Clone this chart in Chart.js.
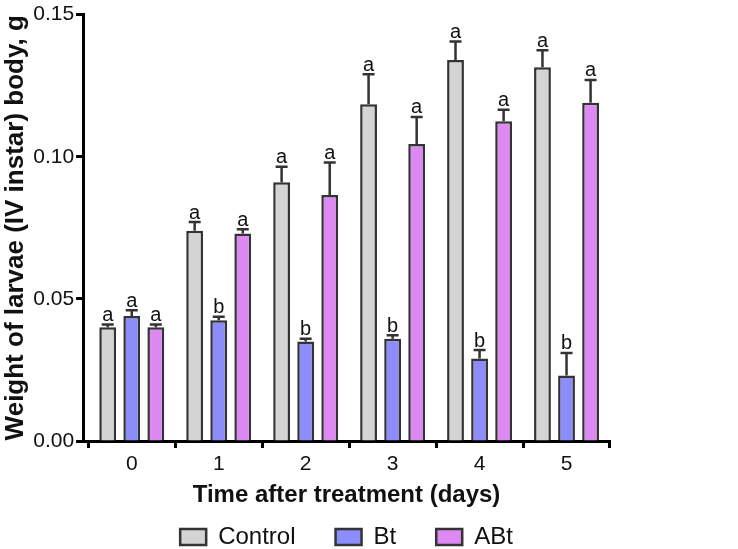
<!DOCTYPE html>
<html>
<head>
<meta charset="utf-8">
<script src="https://cdn.jsdelivr.net/npm/chart.js@4/dist/chart.umd.min.js"></script>
<style>
  html, body { margin: 0; padding: 0; background: #fff; }
  #wrap { width: 738px; height: 549px; }
</style>
</head>
<body>
<div id="wrap"><canvas id="weightChart"></canvas></div>
<script>
// Days after treatment
const days = [0, 1, 2, 3, 4, 5];

// Mean larval weight (g)
const controlMean = [0.040, 0.074, 0.091, 0.1185, 0.134, 0.1315];
const btMean      = [0.044, 0.0425, 0.035, 0.036, 0.029, 0.023];
const abtMean     = [0.040, 0.073, 0.0865, 0.1045, 0.1125, 0.119];

// Standard errors (drawn upward only)
const controlErr = [0.001, 0.003, 0.0055, 0.0105, 0.0065, 0.006];
const btErr      = [0.002, 0.0012, 0.001, 0.0012, 0.003, 0.008];
const abtErr     = [0.001, 0.0015, 0.0115, 0.0095, 0.004, 0.008];

// Significance letters
const controlLetters = ['a', 'a', 'a', 'a', 'a', 'a'];
const btLetters      = ['a', 'b', 'b', 'b', 'b', 'b'];
const abtLetters     = ['a', 'a', 'a', 'a', 'a', 'a'];

const yTicks = [0, 0.05, 0.10, 0.15];

const FONT = '"Liberation Sans", Arial, sans-serif';

function toPoints(values) {
    return days.map((d, i) => ({ x: d, y: values[i] }));
}

// Draws the upper error bars and the letters above them
const errorBarPlugin = {
    id: 'errorBars',
    afterDatasetsDraw(chart) {
        const ctx = chart.ctx;
        const yScale = chart.scales.y;
        chart.data.datasets.forEach((ds, i) => {
            const meta = chart.getDatasetMeta(i);
            meta.data.forEach((bar, j) => {
                const top = yScale.getPixelForValue(ds.data[j].y + ds.errors[j]);
                ctx.save();
                ctx.strokeStyle = '#333333';
                ctx.lineWidth = 2.5;
                ctx.beginPath();
                ctx.moveTo(bar.x, bar.y);
                ctx.lineTo(bar.x, top);
                ctx.moveTo(bar.x - 6, top);
                ctx.lineTo(bar.x + 6, top);
                ctx.stroke();
                ctx.fillStyle = '#111';
                ctx.font = '20px ' + FONT;
                ctx.textAlign = 'center';
                ctx.textBaseline = 'bottom';
                ctx.fillText(ds.letters[j], bar.x, top + 1);
                ctx.restore();
            });
        });
    }
};

const ctx = document.getElementById('weightChart').getContext('2d');

new Chart(ctx, {
    type: 'bar',
    data: {
        datasets: [{
            label: 'Control',
            data: toPoints(controlMean),
            errors: controlErr,
            letters: controlLetters,
            backgroundColor: '#d4d4d4',
            borderColor: '#333333',
            borderWidth: 2.5
        }, {
            label: 'Bt',
            data: toPoints(btMean),
            errors: btErr,
            letters: btLetters,
            backgroundColor: '#8c8cfb',
            borderColor: '#333333',
            borderWidth: 2.5
        }, {
            label: 'ABt',
            data: toPoints(abtMean),
            errors: abtErr,
            letters: abtLetters,
            backgroundColor: '#dd88f3',
            borderColor: '#333333',
            borderWidth: 2.5
        }]
    },
    options: {
        responsive: true,
        maintainAspectRatio: false,
        animation: false,
        devicePixelRatio: 1,
        barPercentage: 0.7,
        categoryPercentage: 0.83,
        layout: {
            padding: { left: 0, right: 128, top: 1, bottom: -10 }
        },
        plugins: {
            legend: {
                position: 'bottom',
                fullSize: false,
                labels: {
                    boxWidth: 26,
                    boxHeight: 16,
                    padding: 40,
                    color: '#111',
                    font: { family: FONT, size: 24 }
                }
            },
            tooltip: { enabled: false }
        },
        scales: {
            x: {
                type: 'linear',
                min: -0.56,
                max: 5.5,
                offset: false,
                grid: {
                    drawOnChartArea: false,
                    drawTicks: true,
                    tickLength: 7,
                    tickWidth: 3,
                    color: '#000'
                },
                border: { color: '#000', width: 3 },
                ticks: {
                    stepSize: 1,
                    includeBounds: false,
                    color: '#111',
                    padding: 4,
                    font: { family: FONT, size: 21 }
                },
                title: {
                    display: true,
                    text: 'Time after treatment (days)',
                    color: '#111',
                    font: { family: FONT, size: 24, weight: 'bold' },
                    padding: { top: 0, bottom: -25 }
                }
            },
            y: {
                min: 0,
                max: 0.15,
                afterBuildTicks(scale) {
                    scale.ticks = yTicks.map(v => ({ value: v }));
                },
                grid: {
                    drawOnChartArea: false,
                    drawTicks: true,
                    tickLength: 7,
                    tickWidth: 3,
                    color: '#000'
                },
                border: { color: '#000', width: 3 },
                ticks: {
                    color: '#111',
                    padding: 2,
                    font: { family: FONT, size: 21 },
                    callback: v => Number(v).toFixed(2)
                },
                title: {
                    display: true,
                    text: 'Weight of larvae (IV instar) body, g',
                    color: '#111',
                    font: { family: FONT, size: 26, weight: 'bold' },
                    padding: { top: 0, bottom: 0 }
                }
            }
        }
    },
    plugins: [errorBarPlugin]
});
</script>
</body>
</html>
